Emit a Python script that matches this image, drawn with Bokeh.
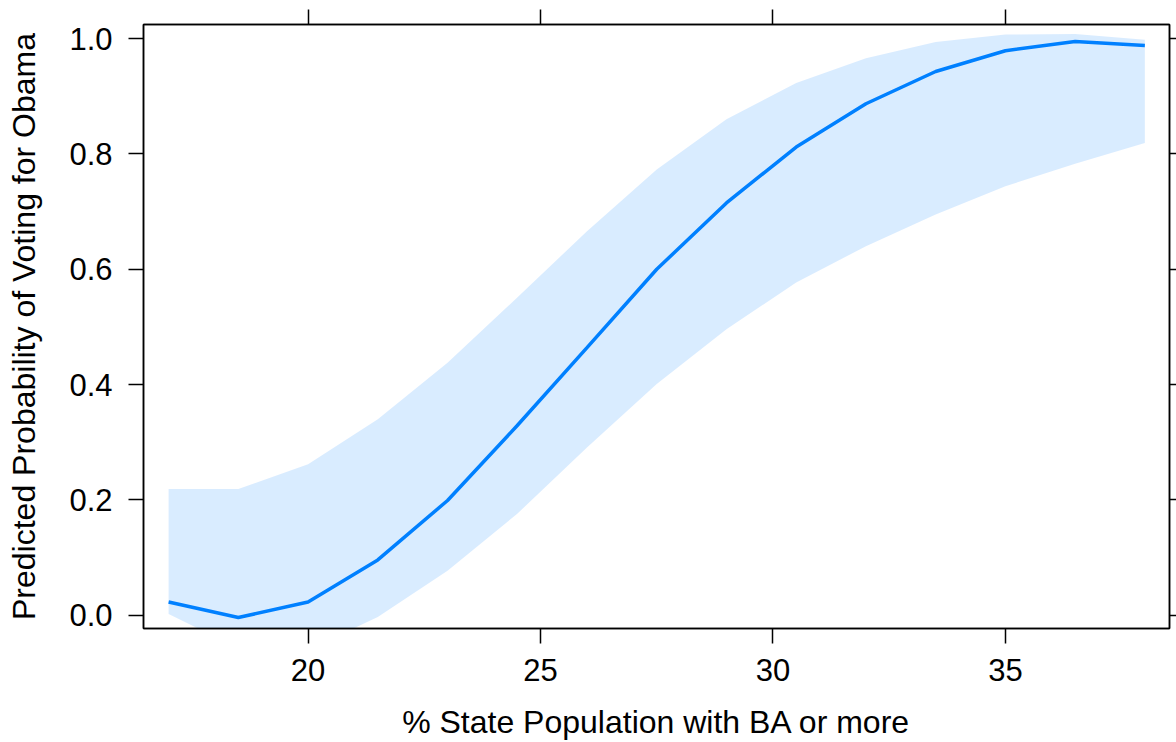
from bokeh.plotting import figure
from bokeh.models import Range1d, LinearAxis, FixedTicker
from bokeh.embed import file_html
from bokeh.resources import INLINE

# ---- data ----
ba_pct = [17, 18.5, 20, 21.5, 23, 24.5, 26, 27.5, 29, 30.5, 32, 33.5, 35, 36.5, 38]
fit = [0.023, -0.004, 0.023, 0.096, 0.199, 0.329, 0.464, 0.600, 0.715, 0.812,
       0.887, 0.943, 0.979, 0.995, 0.988]
upper = [0.219, 0.219, 0.262, 0.340, 0.438, 0.551, 0.666, 0.773, 0.860, 0.923,
         0.966, 0.994, 1.007, 1.008, 0.998]
lower = [0.002, -0.057, -0.060, -0.003, 0.077, 0.176, 0.291, 0.401, 0.496, 0.577,
         0.640, 0.695, 0.744, 0.783, 0.819]

x_ticks = [20, 25, 30, 35]
x_tick_labels = ["20", "25", "30", "35"]
y_ticks = [0.0, 0.2, 0.4, 0.6, 0.8, 1.0]
y_tick_labels = ["0.0", "0.2", "0.4", "0.6", "0.8", "1.0"]

x_title = "% State Population with BA or more"
y_title = "Predicted Probability of Voting for Obama"

FONT = "Liberation Sans"
LINE_BLUE = "#0080ff"

p = figure(width=1176, height=742,
           x_range=Range1d(16.46, 38.53), y_range=Range1d(-0.023, 1.0245),
           output_backend="svg", toolbar_location=None,
           min_border_left=143, min_border_right=7,
           min_border_top=24, min_border_bottom=114)
p.grid.visible = False
p.outline_line_color = "black"
p.outline_line_width = 1.5

p.varea(x=ba_pct, y1=lower, y2=upper, fill_color=LINE_BLUE, fill_alpha=0.15)
p.line(ba_pct, fit, line_color=LINE_BLUE, line_width=3.5)


def style(ax, ticks, labels, show_labels=True, tick_out=15):
    ax.ticker = FixedTicker(ticks=ticks)
    ax.minor_tick_line_color = None
    ax.major_tick_in = 0
    ax.major_tick_out = tick_out
    ax.major_tick_line_width = 1.5
    ax.major_tick_line_color = "black"
    ax.axis_line_color = "black"
    ax.axis_line_width = 1.5
    ax.major_label_text_font = FONT
    ax.major_label_text_font_size = "31px"
    ax.major_label_text_color = "black"
    ax.axis_label_text_font = FONT
    ax.axis_label_text_font_size = "32px"
    ax.axis_label_text_font_style = "normal"
    ax.axis_label_text_color = "black"
    if show_labels:
        ax.major_label_overrides = {t: l for t, l in zip(ticks, labels)}
    else:
        ax.major_label_overrides = {t: "" for t in ticks}
        ax.major_label_standoff = 0


xa = p.xaxis[0]
style(xa, x_ticks, x_tick_labels)
xa.axis_label = x_title
xa.major_label_standoff = 15
xa.axis_label_standoff = 20

ya = p.yaxis[0]
style(ya, y_ticks, y_tick_labels)
ya.axis_label = y_title
ya.major_label_standoff = 16
ya.axis_label_standoff = 24

top = LinearAxis()
style(top, x_ticks, x_tick_labels, show_labels=False)
p.add_layout(top, "above")

right = LinearAxis()
style(right, y_ticks, y_tick_labels, show_labels=False, tick_out=7)
p.add_layout(right, "right")

open("out.html", "w").write(file_html(p, INLINE))
